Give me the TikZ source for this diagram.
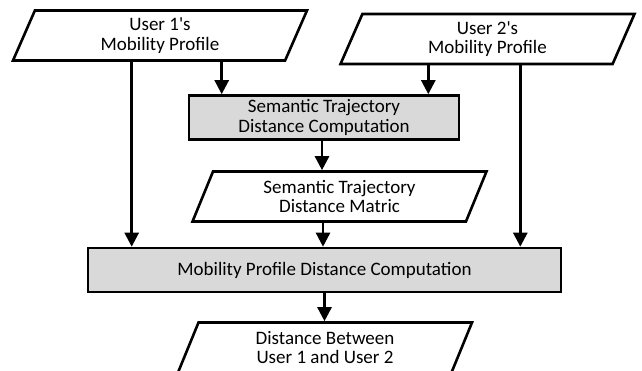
\documentclass[tikz,border=0pt]{standalone}
\usepackage{fontspec}
\setmainfont{Carlito}
\usetikzlibrary{arrows.meta,shapes.geometric}

\begin{document}
\begin{tikzpicture}[
    x=1pt, y=-1pt,
    >={Triangle[length=14pt,width=14pt]},
    proc/.style={
        draw=black,
        line width=2.6pt,
        fill=black!15,
        minimum height=44pt,
        align=center,
        font=\fontsize{19}{19.5}\selectfont
    },
    io/.style={
        trapezium,
        trapezium left angle=62.5,
        trapezium right angle=117.5,
        trapezium stretches body,
        draw=black,
        line width=2.6pt,
        fill=white,
        minimum height=50pt,
        minimum width=294pt,
        align=center,
        font=\fontsize{19}{19.5}\selectfont
    },
    arr/.style={->, line width=2.6pt, draw=black}
]
    \useasboundingbox (0,0) rectangle (642,371);

    \node[io] (user1) at (160,35.5) {User 1\textquotesingle s\\Mobility Profile};
    \node[io] (user2) at (487.5,39) {User 2\textquotesingle s\\Mobility Profile};

    \node[proc, minimum width=270pt] (stdc) at (324,117.5)
        {Semantic Trajectory\\Distance Computation};

    \node[io] (matric) at (339.5,196.5)
        {Semantic Trajectory\\Distance Matric};

    \node[proc, minimum width=473pt] (mpdc) at (324.5,270)
        {Mobility Profile Distance Computation};

    \node[io] (dist) at (325,347.5)
        {Distance Between\\User 1 and User 2};

    \draw[arr] ([xshift=34pt]stdc.north west |- user1.south) -- ([xshift=34pt]stdc.north west);
    \draw[arr] ([xshift=-32pt]stdc.north east |- user2.south) -- ([xshift=-32pt]stdc.north east);
    \draw[arr] ([xshift=45pt]mpdc.north west |- user1.south) -- ([xshift=45pt]mpdc.north west);
    \draw[arr] ([xshift=-42pt]mpdc.north east |- user2.south) -- ([xshift=-42pt]mpdc.north east);
    \draw[arr] ([xshift=-2pt]stdc.south) -- ([xshift=-2pt]stdc.south |- matric.north);
    \draw[arr] ([xshift=-1.5pt]mpdc.north |- matric.south) -- ([xshift=-1.5pt]mpdc.north);
    \draw[arr] (mpdc.south) -- (mpdc.south |- dist.north);
\end{tikzpicture}
\end{document}
